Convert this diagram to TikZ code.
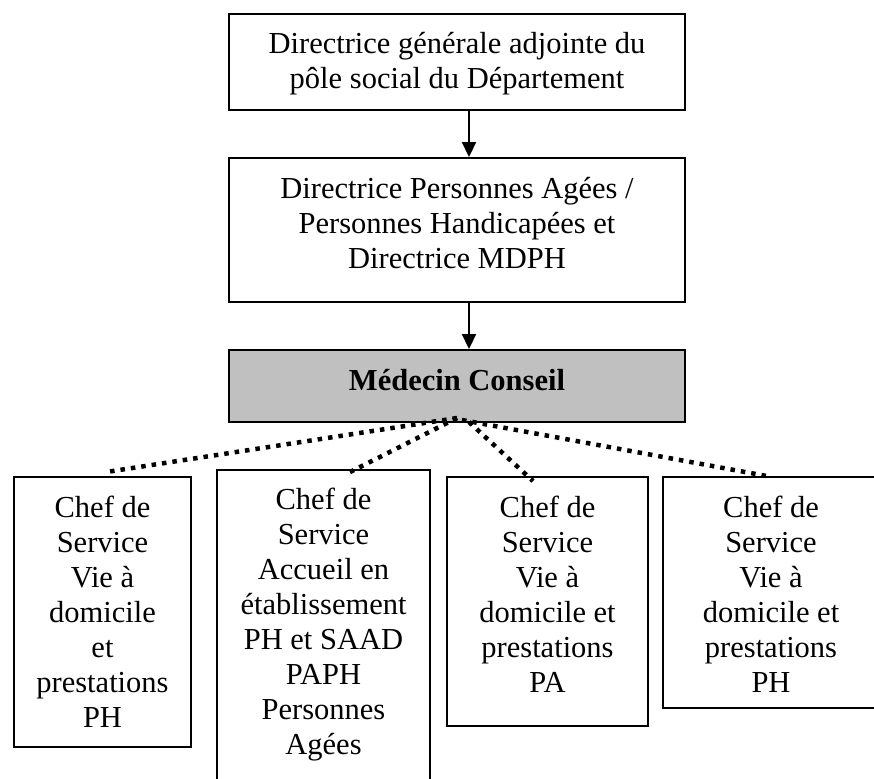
\documentclass[tikz,border=0pt]{standalone}
\usepackage{fontspec}
\setmainfont{Liberation Serif}
\usetikzlibrary{arrows.meta,calc}
\definecolor{boxgray}{HTML}{C0C0C0}
\begin{document}
\begin{tikzpicture}[x=1pt,y=-1pt,
  box/.style={draw=black, line width=1.9pt, inner sep=0pt, rectangle},
  txt/.style={inner sep=0pt, anchor=base, font=\fontsize{30.5}{35}\selectfont},
  arr/.style={line width=1.9pt, -{Triangle[length=15pt,width=14pt]}},
  dots/.style={line width=4.5pt, dash pattern=on 4.5pt off 6pt}]
\useasboundingbox (0,0) rectangle (874,778);
\fill[white] (0,0) rectangle (874,778);

% upper boxes
\node[box, minimum width=456pt, minimum height=96pt] (dga) at (457,62) {};
\node[box, minimum width=456pt, minimum height=144pt] (dpa) at (457,230) {};
\node[box, fill=boxgray, minimum width=456pt, minimum height=72pt] (mc) at (457,386) {};

% lower boxes
\node[box, minimum width=177pt, minimum height=270pt] (c1) at (102.5,612) {};
\node[box, minimum width=213pt, minimum height=320pt] (c2) at (323.5,630) {};
\node[box, minimum width=201pt, minimum height=249pt] (c3) at (547.5,601.5) {};
\node[box, minimum width=216pt, minimum height=231pt] (c4) at (771,592.5) {};

% texts
\node[txt] (tdga) at (457,54) {\begin{tabular}[t]{@{}c@{}}Directrice générale adjointe du\\pôle social du Département\end{tabular}};
\node[txt] (tdpa) at (457,198) {\begin{tabular}[t]{@{}c@{}}Directrice Personnes Agées /\\Personnes Handicapées et\\Directrice MDPH\end{tabular}};
\node[txt] (tmc) at (457,390) {\textbf{Médecin Conseil}};
\node[txt] (tc1) at (102.5,517) {\begin{tabular}[t]{@{}c@{}}Chef de\\Service\\Vie à\\domicile\\et\\prestations\\PH\end{tabular}};
\node[txt] (tc2) at (323.5,509) {\begin{tabular}[t]{@{}c@{}}Chef de\\Service\\Accueil en\\établissement\\PH et SAAD\\PAPH\\Personnes\\Agées\end{tabular}};
\node[txt] (tc3) at (547.5,517) {\begin{tabular}[t]{@{}c@{}}Chef de\\Service\\Vie à\\domicile et\\prestations\\PA\end{tabular}};
\node[txt] (tc4) at (771,517) {\begin{tabular}[t]{@{}c@{}}Chef de\\Service\\Vie à\\domicile et\\prestations\\PH\end{tabular}};

% arrows
\draw[arr] ([xshift=12pt]dga.south) -- ([xshift=12pt]dpa.north);
\draw[arr] ([xshift=12pt]dpa.south) -- ([xshift=12pt]mc.north);

% dotted connectors
\coordinate (h1) at (457,418);
\coordinate (h3) at (469,422);
\coordinate (h4) at (462,420);
\coordinate (e1) at ($(c1.north)+(3.5,-4)$);
\coordinate (e2) at ($(c2.north)+(26.5,3)$);
\coordinate (e3) at ($(c3.north)+(-14.5,5)$);
\coordinate (e4) at ($(c4.north)+(-4,0)$);
\draw[dots] (h1) -- (e1);
\draw[dots] (h1) -- (e2);
\draw[dots] (h3) -- (e3);
\draw[dots] (h4) -- (e4);
\end{tikzpicture}
\end{document}
